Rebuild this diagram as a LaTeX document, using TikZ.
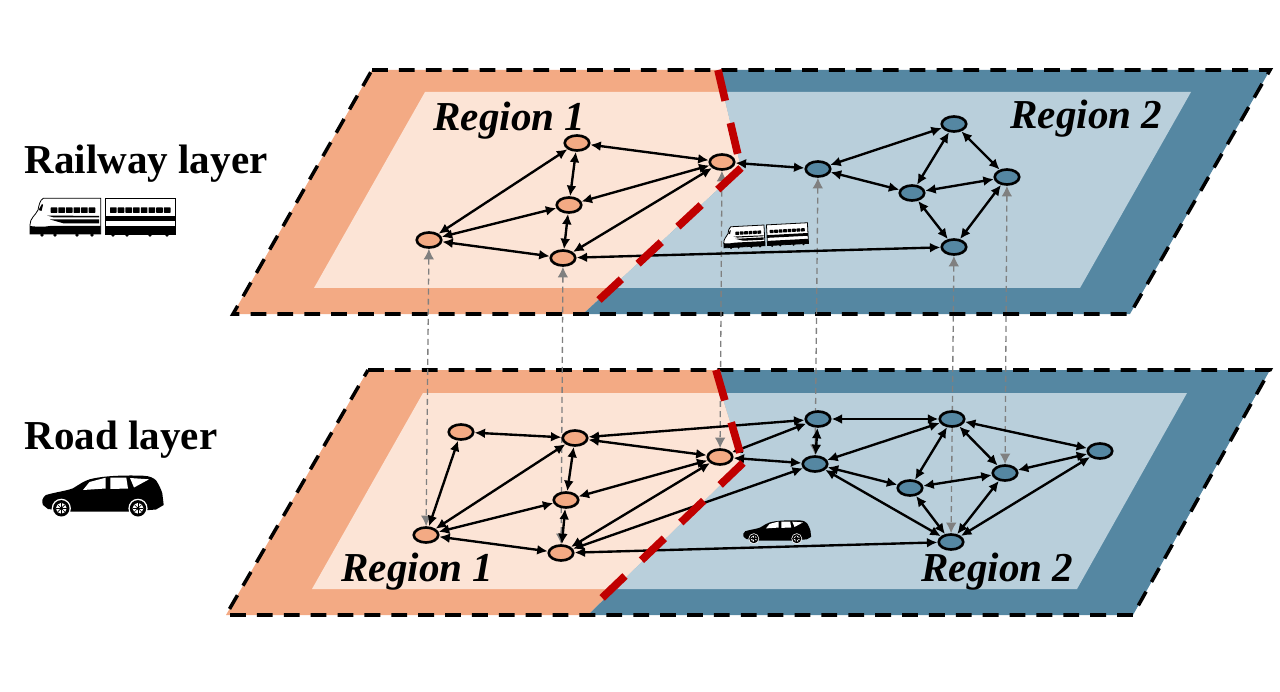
\documentclass[tikz,border=0pt]{standalone}
\usepackage{fontspec}
\setmainfont{Liberation Serif}
\usetikzlibrary{
  arrows.meta,
  shapes.geometric,
  backgrounds,
}
\definecolor{regionOne}{HTML}{F3AA84}
\definecolor{regionOneBg}{HTML}{FCE4D6}
\definecolor{regionTwo}{HTML}{5587A2}
\definecolor{regionTwoBg}{HTML}{B9CFDB}
\definecolor{borderRed}{HTML}{C00000}
\definecolor{crossGray}{HTML}{808080}
\tikzset{
  hub/.style={
    ellipse, draw=black, line width=1.5pt, fill=#1,
    minimum width=0.49cm, minimum height=0.3cm, inner sep=0pt,
  },
  layerEdge/.style={
    draw=black, line width=2pt, dash pattern=on 9pt off 6.3pt,
  },
  regionBorder/.style={
    draw=borderRed, line width=4.4pt, dash pattern=on 18pt off 13pt,
  },
  arrowDuo/.style={
    {Latex[length=6pt,width=5.6pt]}-{Latex[length=6pt,width=5.6pt]},
    line width=1.35pt, draw=black,
  },
  arrowCross/.style={
    {Latex[length=6pt,width=6pt]}-{Latex[length=6pt,width=6pt]},
    line width=0.75pt, draw=crossGray, dash pattern=on 3.4pt off 2.3pt,
  },
  layerText/.style={
    anchor=base west, inner sep=0pt, font=\fontsize{23.4}{28}\selectfont\bfseries,
  },
  regionText/.style={
    anchor=base west, inner sep=0pt,
    font=\fontsize{23.4}{28}\selectfont\bfseries\itshape,
  },
  railIcon/.pic={
    % front car
    \draw[line width=0.45pt, fill=white] (13.3,0.3) -- (70.7,0.3) -- (70.7,36) -- (0,36) -- (0,27)
      .. controls (0,20) and (5,18) .. (8,12) .. controls (9,7) and (10,2) .. (13.3,0.3) -- cycle;
    \fill (0,28) .. controls (8,29) and (14,29) .. (20,28) -- (70.7,28) -- (70.7,36) -- (0,36) -- cycle;
    \fill (17,17.5) -- (69,18) -- (69,19.5) -- (24,19.5) -- cycle;
    \fill (20,21.5) -- (69,21.5) -- (69,25.5) -- (34,25.5) -- cycle;
    \fill (8.5,12) -- (12,6) -- (13,7) -- (11.5,13) -- cycle;
    \foreach \wx in {20.7,28.3,35.9,43.5,51.1,58.7}
      \fill[rounded corners=0.3pt] (\wx,9.3) rectangle ++(6.6,5.6);
    % rear car
    \draw[line width=0.45pt, fill=white] (75,0.3) rectangle (145.7,36);
    \fill (75,28) rectangle (145.7,36);
    \fill (75,18) rectangle (145.7,22.7);
    \foreach \wx in {80,87.7,95.4,103.1,110.8,118.5,126.2,133.9}
      \fill[rounded corners=0.3pt] (\wx,9.3) rectangle ++(6.6,5.6);
    % wheels
    \foreach \wx in {12,25,47,62,83,97,120,137}
      \fill (\wx,37) circle (1.9);
  },
  roadIcon/.pic={
    \fill (1,30) .. controls (-0.5,26) and (0,23) .. (4,20)
      .. controls (14,17) and (24,16) .. (31,13.3)
      .. controls (38,9) and (42,6) .. (47.7,4.3)
      .. controls (60,1) and (80,0) .. (101,0.7)
      .. controls (108,1) and (112,3) .. (114.3,5.7)
      .. controls (117,10) and (119,14) .. (120.3,18.3)
      -- (121.7,30) -- (114,34.5) -- (86,36.7) -- (29,36.7) -- (6,34) -- cycle;
    \fill[white] (41,15) -- (47.5,7) -- (63.7,2.7) -- (63.7,13.5) -- cycle;
    \fill[white] (68.3,2.7) -- (84.3,2.7) -- (86,13.5) -- (68.3,14) -- cycle;
    \fill[white] (88,3) -- (107,4.3) -- (92,12.5) -- cycle;
    % wheels
    \foreach \wx in {19.3,96} {
      \fill[white] (\wx,33.3) circle (9.6);
      \fill (\wx,33.3) circle (8.2);
      \fill[white] (\wx,33.3) circle (5.4);
      \foreach \wa in {0,45,...,315}
        \draw[line width=0.35pt] (\wx,33.3) -- ++(\wa:5.4);
      \fill (\wx,33.3) circle (1.8);
    }
  },
}

\begin{document}
\begin{tikzpicture}[x=0.02cm, y=-0.02cm]
\useasboundingbox (0,0) rectangle (1280,692);

% Railway layer corners
\coordinate (railTL) at (372,70);
\coordinate (railTM) at (718,70);
\coordinate (railTR) at (1270,70);
\coordinate (railBR) at (1130,314);
\coordinate (railBM) at (583,314);
\coordinate (railBL) at (233,314);
\coordinate (railKink) at (741,168);

% Road layer corners
\coordinate (roadTL) at (368,370);
\coordinate (roadTM) at (716,370);
\coordinate (roadTR) at (1270,370);
\coordinate (roadBR) at (1133,615);
\coordinate (roadBM) at (588,615);
\coordinate (roadBL) at (226,615);
\coordinate (roadKink) at (743,463);

% Railway nodes
\node[hub=regionOne] (railA) at (577,143) {};
\node[hub=regionOne] (railB) at (569,205) {};
\node[hub=regionOne] (railC) at (563,258) {};
\node[hub=regionOne] (railD) at (429,240) {};
\node[hub=regionOne] (railE) at (722,162) {};
\node[hub=regionTwo] (railF) at (818,169) {};
\node[hub=regionTwo] (railG) at (954,124) {};
\node[hub=regionTwo] (railH) at (912,193) {};
\node[hub=regionTwo] (railI) at (1007,177) {};
\node[hub=regionTwo] (railJ) at (954,247) {};

% Road nodes
\node[hub=regionOne] (roadA) at (461,432) {};
\node[hub=regionOne] (roadB) at (575,438) {};
\node[hub=regionOne] (roadC) at (566,500) {};
\node[hub=regionOne] (roadD) at (561,553) {};
\node[hub=regionOne] (roadE) at (426,535) {};
\node[hub=regionOne] (roadF) at (720,457) {};
\node[hub=regionTwo] (roadG) at (818,419) {};
\node[hub=regionTwo] (roadH) at (815,464) {};
\node[hub=regionTwo] (roadI) at (952,419) {};
\node[hub=regionTwo] (roadJ) at (910,488) {};
\node[hub=regionTwo] (roadK) at (1005,473) {};
\node[hub=regionTwo] (roadL) at (951,542) {};
\node[hub=regionTwo] (roadM) at (1100,451) {};

% Region fills and layer-to-layer links go underneath the nodes
\begin{scope}[on background layer]
  \fill[regionOne] (railTL) -- (railTM) -- (railKink) -- (railBM) -- (railBL) -- cycle;
  \fill[regionTwo] (railTM) -- (railTR) -- (railBR) -- (railBM) -- (railKink) -- cycle;
  \fill[regionOneBg] (425,92) -- (723,92) -- (railKink) -- (611,288) -- (314,288) -- cycle;
  \fill[regionTwoBg] (723,92) -- (1191,92) -- (1080,288) -- (611,288) -- (railKink) -- cycle;

  \fill[regionOne] (roadTL) -- (roadTM) -- (roadKink) -- (roadBM) -- (roadBL) -- cycle;
  \fill[regionTwo] (roadTM) -- (roadTR) -- (roadBR) -- (roadBM) -- (roadKink) -- cycle;
  \fill[regionOneBg] (423,393) -- (721,393) -- (roadKink) -- (614,589) -- (312,589) -- cycle;
  \fill[regionTwoBg] (721,393) -- (1187,393) -- (1077,589) -- (614,589) -- (roadKink) -- cycle;

  \draw[layerEdge] (railTL) -- (railTR) -- (railBR) -- (railBL) -- cycle;
  \draw[layerEdge] (roadTL) -- (roadTR) -- (roadBR) -- (roadBL) -- cycle;

  \draw[arrowCross] (railD) -- (roadE);
  \draw[arrowCross] (railC) -- (roadD);
  \draw[arrowCross] (railE) -- (roadF);
  \draw[arrowCross] (railF) -- (roadH);
  \draw[arrowCross] (railJ) -- (roadL);
  \draw[arrowCross] (railI) -- (roadK);
\end{scope}

% Railway links
\draw[arrowDuo] (railA) -- (railD);
\draw[arrowDuo] (railA) -- (railB);
\draw[arrowDuo] (railA) -- (railE);
\draw[arrowDuo] (railB) -- (railD);
\draw[arrowDuo] (railB) -- (railC);
\draw[arrowDuo] (railB) -- (railE);
\draw[arrowDuo] (railC) -- (railD);
\draw[arrowDuo] (railC) -- (railE);
\draw[arrowDuo] (railC) -- (railJ);
\draw[arrowDuo] (railE) -- (railF);
\draw[arrowDuo] (railF) -- (railG);
\draw[arrowDuo] (railF) -- (railH);
\draw[arrowDuo] (railG) -- (railH);
\draw[arrowDuo] (railG) -- (railI);
\draw[arrowDuo] (railH) -- (railI);
\draw[arrowDuo] (railH) -- (railJ);
\draw[arrowDuo] (railI) -- (railJ);

% Road links
\draw[arrowDuo] (roadA) -- (roadB);
\draw[arrowDuo] (roadA) -- (roadE);
\draw[arrowDuo] (roadB) -- (roadC);
\draw[arrowDuo] (roadB) -- (roadE);
\draw[arrowDuo] (roadB) -- (roadF);
\draw[arrowDuo] (roadB) -- (roadG);
\draw[arrowDuo] (roadC) -- (roadD);
\draw[arrowDuo] (roadC) -- (roadE);
\draw[arrowDuo] (roadC) -- (roadF);
\draw[arrowDuo] (roadD) -- (roadE);
\draw[arrowDuo] (roadD) -- (roadF);
\draw[arrowDuo] (roadD) -- (roadH);
\draw[arrowDuo] (roadD) -- (roadL);
\draw[arrowDuo] (roadF) -- (roadG);
\draw[arrowDuo] (roadF) -- (roadH);
\draw[arrowDuo] (roadG) -- (roadH);
\draw[arrowDuo] (roadG) -- (roadI);
\draw[arrowDuo] (roadH) -- (roadI);
\draw[arrowDuo] (roadH) -- (roadJ);
\draw[arrowDuo] (roadH) -- (roadL);
\draw[arrowDuo] (roadI) -- (roadJ);
\draw[arrowDuo] (roadI) -- (roadK);
\draw[arrowDuo] (roadI) -- (roadM);
\draw[arrowDuo] (roadJ) -- (roadK);
\draw[arrowDuo] (roadJ) -- (roadL);
\draw[arrowDuo] (roadK) -- (roadL);
\draw[arrowDuo] (roadK) -- (roadM);
\draw[arrowDuo] (roadL) -- (roadM);

% Region borders
\draw[regionBorder] (railTM) -- (railKink);
\draw[regionBorder] (railKink) -- (599,300);
\draw[regionBorder] (roadTM) -- (roadKink);
\draw[regionBorder] (roadKink) -- (602,598);

% Labels
\node[layerText] (railLabel) at (24,174) {Railway layer};
\node[layerText] (roadLabel) at (24,449) {Road layer};
\node[regionText] (railOne) at (433,131) {Region 1};
\node[regionText] (railTwo) at (1010,129) {Region 2};
\node[regionText] (roadOne) at (341,581) {Region 1};
\node[regionText] (roadTwo) at (921,581) {Region 2};

% Icons
\pic (trainBig) at (30,198) {railIcon};
\pic[scale=0.58, rotate=3] (trainMini) at (723,227) {railIcon};
\pic (carBig) at (42,475) {roadIcon};
\pic[scale=0.56] (carMini) at (743,520) {roadIcon};

\end{tikzpicture}
\end{document}
